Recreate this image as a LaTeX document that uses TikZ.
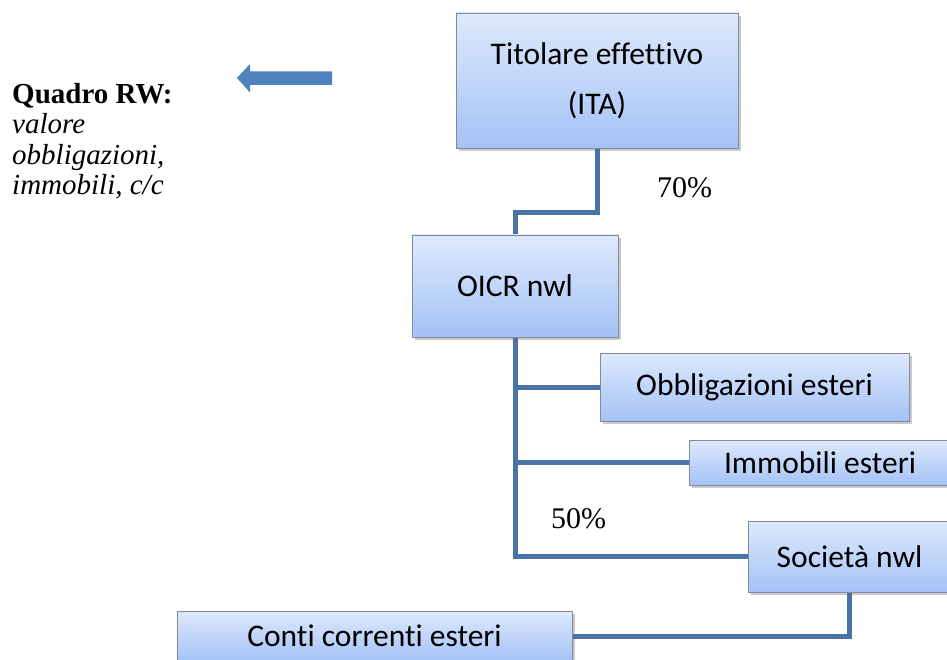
\documentclass[tikz,border=0pt]{standalone}
\usepackage{fontspec}
\setmainfont{Liberation Serif}
\newfontfamily\calib[Ligatures=NoCommon]{Carlito}
\usetikzlibrary{shadows,backgrounds}
\definecolor{boxtop}{RGB}{222,233,252}
\definecolor{boxbot}{RGB}{164,194,246}
\definecolor{boxline}{RGB}{128,138,156}
\definecolor{conn}{RGB}{74,116,168}
\definecolor{arrowblue}{RGB}{79,129,189}
\begin{document}
\begin{tikzpicture}[x=1pt,y=-1pt,
  orgbox/.style={draw=boxline, line width=0.8pt, top color=boxtop, bottom color=boxbot,
    inner sep=0pt, font=\calib\fontsize{31.5}{50}\selectfont, align=center,
    drop shadow={shadow xshift=2.5pt, shadow yshift=-3pt, opacity=0.35, fill=black!60}},
  link/.style={draw=conn, line width=5pt},
  pct/.style={font=\fontsize{30}{34}\selectfont, inner sep=0pt, anchor=base west}]
\path[use as bounding box, clip] (0,0) rectangle (947,660);

\node[orgbox, minimum width=282pt, minimum height=135pt] (tit) at (597,80.5) {Titolare effettivo\\(ITA)};
\node[orgbox, minimum width=206pt, minimum height=102pt] (oicr) at (515,286) {OICR nwl};
\node[orgbox, minimum width=309pt, minimum height=68pt] (obb) at (754.5,387) {Obbligazioni esteri};
\node[orgbox, minimum width=262pt, minimum height=45pt] (imm) at (820,462.5) {Immobili esteri};
\node[orgbox, minimum width=203pt, minimum height=71pt] (soc) at (849.5,556.5) {Società nwl};
\node[orgbox, minimum width=395pt, minimum height=50pt] (cc) at (374.5,636) {Conti correnti esteri};

\begin{scope}[on background layer]
\draw[link] (tit.south) -- ++(0,64) -| (oicr.north);
\draw[link] (oicr.south) |- (soc.west);
\draw[link] (oicr.south |- obb.west) -- (obb.west);
\draw[link] (oicr.south |- imm.west) -- (imm.west);
\draw[link] (soc.south) |- (cc.east);
\end{scope}

\node[pct] (p70) at (657,198) {70\%};
\node[pct] (p50) at (551,528) {50\%};

\node[anchor=north west, align=left, inner sep=0pt, font=\fontsize{29}{30.5}\selectfont] (rw) at (12,83)
  {\textbf{Quadro RW:}\\\textit{valore}\\\textit{obbligazioni,}\\\textit{immobili, c/c}};

\fill[arrowblue] (332,71.5) -- (250,71.5) -- (250,64) -- (237,78) -- (250,92.5) -- (250,85) -- (332,85) -- cycle;
\end{tikzpicture}
\end{document}
